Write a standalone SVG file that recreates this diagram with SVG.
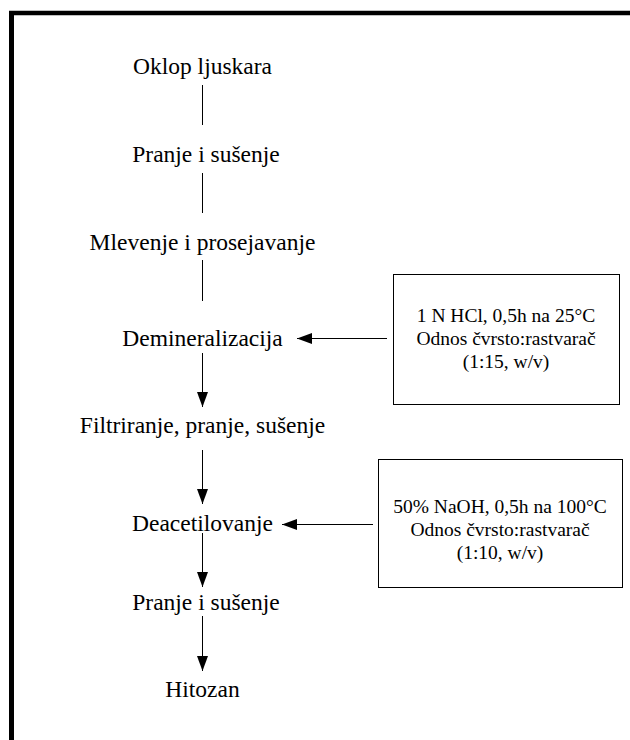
<svg xmlns="http://www.w3.org/2000/svg" width="630" height="740" viewBox="0 0 630 740">
<style>
.lbl{font-family:"Liberation Serif","Times New Roman",serif;font-size:23.5px;fill:#000;text-anchor:middle}
.box{font-family:"Liberation Serif","Times New Roman",serif;font-size:19.5px;fill:#000;text-anchor:middle}
.cn{stroke:#000;stroke-width:1;fill:none}
.bx{fill:#fff;stroke:#000;stroke-width:1}
</style>
<defs>
<marker id="ah" markerUnits="userSpaceOnUse" markerWidth="16" markerHeight="12" refX="15" refY="5.5" orient="auto">
<path d="M0,0 L15,5.5 L0,11 z" fill="#000"/>
</marker>
</defs>
<rect width="630" height="740" fill="#fff"/>
<g id="frame">
<line x1="11.5" y1="11" x2="11.5" y2="740" stroke="#000" stroke-width="5"/>
<line x1="9" y1="13" x2="630" y2="13" stroke="#000" stroke-width="4.5"/>
</g>
<g id="connectors">
<line class="cn" x1="202.5" y1="85" x2="202.5" y2="125"/>
<line class="cn" x1="202.5" y1="173" x2="202.5" y2="213"/>
<line class="cn" x1="202.5" y1="260" x2="202.5" y2="301"/>
<line class="cn" x1="202.5" y1="353" x2="202.5" y2="407" marker-end="url(#ah)"/>
<line class="cn" x1="202.5" y1="450" x2="202.5" y2="504" marker-end="url(#ah)"/>
<line class="cn" x1="202.5" y1="533" x2="202.5" y2="587" marker-end="url(#ah)"/>
<line class="cn" x1="202.5" y1="616" x2="202.5" y2="671" marker-end="url(#ah)"/>
<line class="cn" x1="387" y1="338.5" x2="297" y2="338.5" marker-end="url(#ah)"/>
<line class="cn" x1="373" y1="524.5" x2="282" y2="524.5" marker-end="url(#ah)"/>
</g>
<g id="n1"><text class="lbl" x="202.5" y="74">Oklop ljuskara</text></g>
<g id="n2"><text class="lbl" x="206" y="162">Pranje i sušenje</text></g>
<g id="n3"><text class="lbl" x="202.5" y="250">Mlevenje i prosejavanje</text></g>
<g id="n4"><text class="lbl" x="202.5" y="346">Demineralizacija</text></g>
<g id="n5"><text class="lbl" x="202.5" y="433">Filtriranje, pranje, sušenje</text></g>
<g id="n6"><text class="lbl" x="202.5" y="531">Deacetilovanje</text></g>
<g id="n7"><text class="lbl" x="206" y="610">Pranje i sušenje</text></g>
<g id="n8"><text class="lbl" x="202.5" y="697">Hitozan</text></g>
<g id="b1">
<rect class="bx" x="393.5" y="274.5" width="226" height="130"/>
<text class="box" x="506" y="322">1 N HCl, 0,5h na 25°C</text>
<text class="box" x="506" y="345">Odnos čvrsto:rastvarač</text>
<text class="box" x="506" y="368">(1:15, w/v)</text>
</g>
<g id="b2">
<rect class="bx" x="378.5" y="459.5" width="244" height="128"/>
<text class="box" x="500" y="513">50% NaOH, 0,5h na 100°C</text>
<text class="box" x="500" y="536">Odnos čvrsto:rastvarač</text>
<text class="box" x="500" y="559">(1:10, w/v)</text>
</g>
</svg>
